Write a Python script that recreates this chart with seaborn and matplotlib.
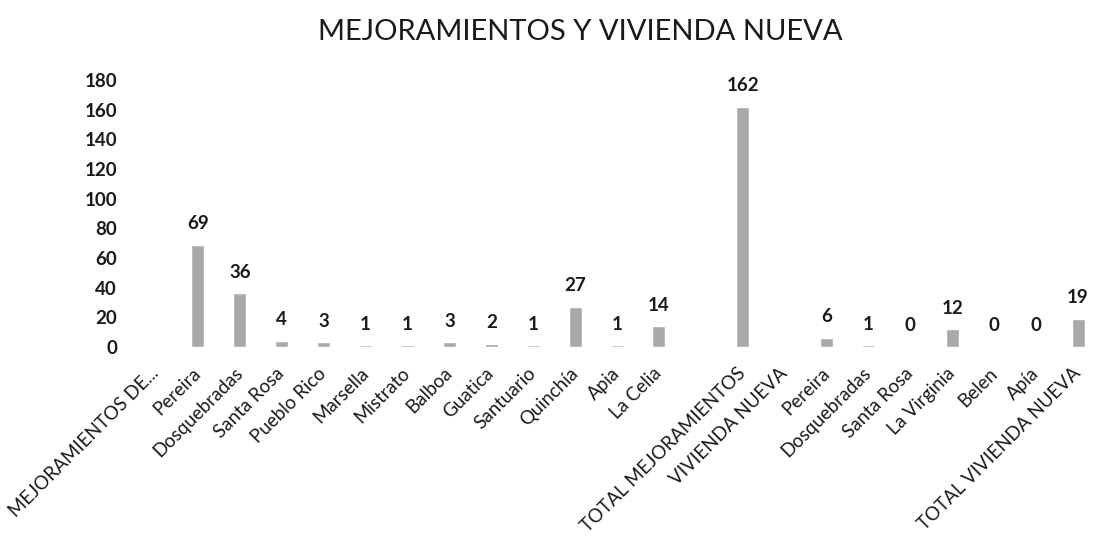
import matplotlib
matplotlib.use("Agg")
import matplotlib.pyplot as plt
import seaborn as sns
import pandas as pd
import numpy as np

categorias = ["MEJORAMIENTOS DE...", "Pereira", "Dosquebradas", "Santa Rosa", "Pueblo Rico",
              "Marsella", "Mistrato", "Balboa", "Guatica", "Santuario", "Quinchía", "Apia",
              "La Celia", "", "TOTAL MEJORAMIENTOS", "VIVIENDA NUEVA", "Pereira", "Dosquebradas",
              "Santa Rosa", "La Virginia", "Belen", "Apía", "TOTAL VIVIENDA NUEVA"]
valores = [np.nan, 69, 36, 4, 3, 1, 1, 3, 2, 1, 27, 1, 14, np.nan, 162, np.nan,
           6, 1, 0, 12, 0, 0, 19]
yticks = [0, 20, 40, 60, 80, 100, 120, 140, 160, 180]

sns.set_theme(style="white")
plt.rcParams['font.family'] = ['Lato', 'DejaVu Sans']

df = pd.DataFrame({"pos": range(len(categorias)), "valor": valores})

fig = plt.figure(figsize=(10.94, 5.55), dpi=100)
ax = fig.add_axes([135 / 1094, 0.375, (1094 - 135) / 1094, 0.481])
sns.barplot(data=df, x="pos", y="valor", color="#a9a9a9", width=0.31,
            saturation=1, ax=ax)

for i, v in enumerate(valores):
    if not np.isnan(v):
        ax.annotate(f"{int(v)}", (i, v), xytext=(0, 9), textcoords="offset points",
                    ha="center", va="bottom", fontsize=13.5, fontweight="bold", color="#1a1a1a")

ax.set_xlim(-0.5, 22.38)
ax.set_ylim(0, 180)
ax.set_yticks(yticks)
ax.set_yticklabels([str(t) for t in yticks], fontsize=13.5, fontweight="bold", color="#1a1a1a")
ax.set_xticks(range(len(categorias)))
ax.set_xticklabels(categorias, rotation=45, ha="right", va="center", rotation_mode="anchor",
                   fontsize=13.5, color="#1a1a1a")
ax.tick_params(axis="y", length=0, pad=13)
ax.tick_params(axis="x", length=0, pad=17)
ax.set_xlabel("")
ax.set_ylabel("")
sns.despine(ax=ax, left=True, bottom=True)

fig.suptitle("MEJORAMIENTOS Y VIVIENDA NUEVA", x=0.53, y=0.965, fontsize=21, color="#1a1a1a")

fig.savefig("out.png", dpi=100)
